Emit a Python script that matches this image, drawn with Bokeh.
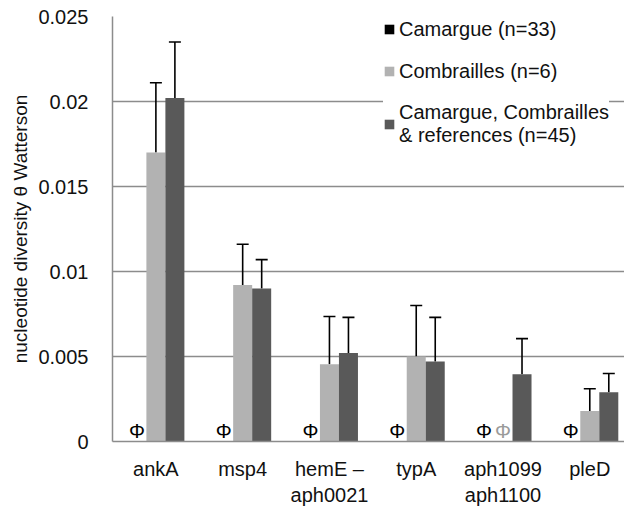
from bokeh.plotting import figure
from bokeh.models import (Whisker, TeeHead, ColumnDataSource, FixedTicker,
                          NumeralTickFormatter, Legend, LegendItem, Range1d)
from bokeh.embed import file_html
from bokeh.resources import INLINE
from bokeh.core.properties import value

# ---- data ----
genes = ["ankA", "msp4", "hemE \u2013\naph0021", "typA", "aph1099\naph1100", "pleD"]
camargue = [0.0, 0.0, 0.0, 0.0, 0.0, 0.0]
combrailles = [0.0170, 0.0092, 0.00455, 0.0050, 0.0, 0.0018]
combrailles_sd = [0.0041, 0.0024, 0.0028, 0.0030, 0.0, 0.0013]
all_isolates = [0.0202, 0.0090, 0.0052, 0.0047, 0.00395, 0.0029]
all_sd = [0.0033, 0.0017, 0.0021, 0.0026, 0.0021, 0.0011]
y_ticks = [0, 0.005, 0.01, 0.015, 0.02, 0.025]
series_labels = ["Camargue (n=33)", "Combrailles (n=6)",
                 "Camargue, Combrailles\n& references (n=45)"]

# ---- style ----
FONT = "Liberation Sans"
C_CAM = "#000000"
C_COM = "#B2B2B2"
C_ALL = "#595959"
GRID = "#8C8C8C"
BW = 0.219

centers = [i + 0.5 for i in range(len(genes))]
x_cam = [c - BW for c in centers]
x_com = centers
x_all = [c + BW for c in centers]

p = figure(width=624, height=508, output_backend="svg", toolbar_location=None,
           x_range=Range1d(0, 5.90), y_range=Range1d(0, 0.025),
           min_border_left=112, min_border_right=0, min_border_top=16,
           min_border_bottom=66)
p.outline_line_color = None
p.background_fill_color = "white"
p.border_fill_color = "white"

src_cam = ColumnDataSource(dict(x=x_cam, top=camargue))
src_com = ColumnDataSource(dict(x=x_com, top=combrailles,
                                upper=[v + e for v, e in zip(combrailles, combrailles_sd)]))
src_all = ColumnDataSource(dict(x=x_all, top=all_isolates,
                                upper=[v + e for v, e in zip(all_isolates, all_sd)]))

r_cam = p.vbar(x="x", top="top", bottom=0, width=BW, source=src_cam,
               fill_color=C_CAM, line_color=None)
r_com = p.vbar(x="x", top="top", bottom=0, width=BW, source=src_com,
               fill_color=C_COM, line_color=None)
r_all = p.vbar(x="x", top="top", bottom=0, width=BW, source=src_all,
               fill_color=C_ALL, line_color=None)

# error bars (upper only) for non-zero values
for src, vals in ((src_com, combrailles), (src_all, all_isolates)):
    idx = [i for i, v in enumerate(vals) if v > 0]
    esrc = ColumnDataSource(dict(x=[src.data["x"][i] for i in idx],
                                 base=[src.data["top"][i] for i in idx],
                                 upper=[src.data["upper"][i] for i in idx]))
    w = Whisker(base="x", lower="base", upper="upper", dimension="height",
                source=esrc, line_color="black", line_width=1.6,
                lower_head=None,
                upper_head=TeeHead(size=12, line_color="black", line_width=1.6))
    p.add_layout(w)

# Phi markers for zero values
phi_x, phi_c = [], []
for xs, vals, col in ((x_cam, camargue, "#000000"), (x_com, combrailles, "#9A9A9A")):
    for xx, v in zip(xs, vals):
        if v == 0:
            phi_x.append(xx)
            phi_c.append(col)
p.text(x=phi_x, y=[0] * len(phi_x), text=["\u03a6"] * len(phi_x), text_color=phi_c,
       text_align="center", text_baseline="bottom", text_font=value(FONT),
       text_font_size="20px")

# axes
p.xaxis.ticker = FixedTicker(ticks=centers)
p.xaxis.major_label_overrides = {c: g for c, g in zip(centers, genes)}
p.xaxis.major_tick_line_color = None
p.xaxis.minor_tick_line_color = None
p.xaxis.axis_line_color = GRID
p.xaxis.axis_line_width = 1.5
p.xaxis.major_label_text_font = FONT
p.xaxis.major_label_text_font_size = "20px"
p.xaxis.major_label_text_color = "#111111"
p.xaxis.major_label_standoff = 10

p.yaxis.ticker = FixedTicker(ticks=y_ticks)
p.yaxis.formatter = NumeralTickFormatter(format="0.[000]")
p.yaxis.major_tick_line_color = None
p.yaxis.minor_tick_line_color = None
p.yaxis.axis_line_color = GRID
p.yaxis.axis_line_width = 1.5
p.yaxis.major_label_text_font = FONT
p.yaxis.major_label_text_font_size = "20px"
p.yaxis.major_label_text_color = "#111111"
p.yaxis.major_label_standoff = 18
p.yaxis.axis_label = "nucleotide diversity \u03b8 Watterson"
p.yaxis.axis_label_text_font = FONT
p.yaxis.axis_label_text_font_size = "19px"
p.yaxis.axis_label_text_font_style = "normal"
p.yaxis.axis_label_text_color = "#111111"
p.yaxis.axis_label_standoff = 4

p.xgrid.grid_line_color = None
p.ygrid.grid_line_color = GRID
p.ygrid.grid_line_width = 1.5

legend = Legend(items=[LegendItem(label=series_labels[0], renderers=[r_cam]),
                       LegendItem(label=series_labels[1], renderers=[r_com]),
                       LegendItem(label=series_labels[2], renderers=[r_all])],
                location=(271, 294), orientation="vertical",
                padding=26, margin=0, spacing=18,
                glyph_width=12, glyph_height=12, label_standoff=4,
                label_text_font=FONT, label_text_font_size="20px",
                label_text_color="#111111", label_height=24,
                background_fill_color="white", background_fill_alpha=1.0,
                border_line_color=None)
p.add_layout(legend)

open("out.html", "w").write(file_html(p, INLINE))
